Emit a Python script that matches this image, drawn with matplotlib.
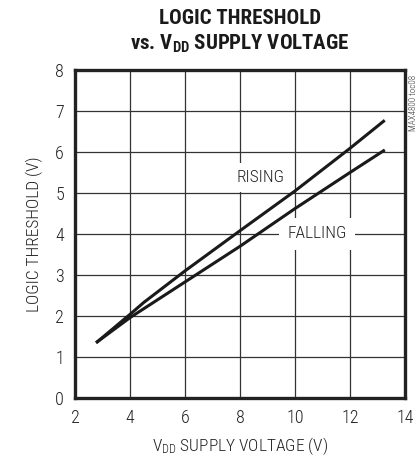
import matplotlib
matplotlib.use("Agg")
import matplotlib.pyplot as plt

# Data
rising_x = [2.81, 4.0, 4.5, 6.0, 8.0, 10.0, 12.0, 13.22]
rising_y = [1.37, 2.04, 2.33, 3.10, 4.08, 5.05, 6.09, 6.75]
falling_x = [2.81, 4.0, 6.0, 8.0, 10.0, 12.0, 13.22]
falling_y = [1.37, 1.96, 2.83, 3.70, 4.62, 5.50, 6.03]
x_ticks = [2, 4, 6, 8, 10, 12, 14]
y_ticks = [0, 1, 2, 3, 4, 5, 6, 7, 8]

plt.rcParams['font.family'] = ['Roboto Condensed', 'Archivo Narrow', 'DejaVu Sans']
plt.rcParams['mathtext.default'] = 'regular'

fig = plt.figure(figsize=(4.18, 4.59), dpi=100)
ax = fig.add_axes([75/418, 1 - 398/459, 330/418, 328/459])
ax.set_xlim(2, 14)
ax.set_ylim(0, 8)
ax.set_xticks(x_ticks)
ax.set_yticks(y_ticks)
ax.tick_params(length=0, labelsize=13, pad=8, colors='#222222')
for lab in ax.get_xticklabels() + ax.get_yticklabels():
    lab.set_fontweight(300)
ax.grid(True, color='#333333', linewidth=0.9, zorder=1)
ax.set_axisbelow(True)
for s in ax.spines.values():
    s.set_linewidth(2.4)
    s.set_color('#222222')

ax.plot(rising_x, rising_y, color='#1a1a1a', linewidth=2.2, zorder=4)
ax.plot(falling_x, falling_y, color='#1a1a1a', linewidth=2.2, zorder=4)

ax.text(8.75, 5.37, 'RISING', ha='center', va='center', fontsize=12.5,
        fontweight=300, color='#222222', zorder=3,
        bbox=dict(facecolor='white', edgecolor='none', pad=5))
ax.text(10.8, 4.0, 'FALLING', ha='center', va='center', fontsize=12.5,
        fontweight=300, color='#222222', zorder=3,
        bbox=dict(facecolor='white', edgecolor='none', pad=6))

ax.set_xlabel('$V_{DD}$ SUPPLY VOLTAGE (V)', fontsize=12.5, fontweight=300,
              color='#222222', labelpad=6)
ax.set_ylabel('LOGIC THRESHOLD (V)', fontsize=12.5, fontweight=300,
              color='#222222', labelpad=9)

fig.text(240/418, 1 - 18/459, 'LOGIC THRESHOLD', ha='center', va='center',
         fontsize=15, fontweight='bold', color='#1a1a1a')
fig.text(240/418, 1 - 44/459, 'vs. $V_{DD}$ SUPPLY VOLTAGE', ha='center',
         va='center', fontsize=15, fontweight='bold', color='#1a1a1a')

fig.text(413/418, 1 - 103/459, 'MAX4800 toc08', rotation=90, ha='center',
         va='center', fontsize=6.5, fontweight=300, color='#333333')

fig.savefig('out.png', dpi=100)
